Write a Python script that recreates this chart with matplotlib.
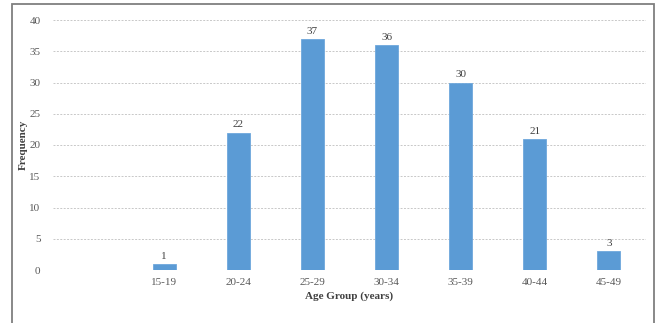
import numpy as np
import matplotlib.pyplot as plt
from matplotlib.patches import Rectangle

plt.rcParams['font.family'] = ['Liberation Serif', 'DejaVu Serif']

# Age groups (first slot left empty on the axis)
age_groups = ['', '15-19', '20-24', '25-29', '30-34', '35-39', '40-44', '45-49']
frequency = [None, 1, 22, 37, 36, 30, 21, 3]

bar_color = '#5B9BD5'
text_color = '#595959'

fig = plt.figure(figsize=(6.57, 3.23), dpi=100)
ax = fig.add_axes([53 / 657, 1 - 270 / 323, 593 / 657, 250 / 323])

x = np.arange(len(age_groups))
for xi, val in zip(x, frequency):
    if val is None:
        continue
    ax.bar(xi, val, width=0.31, color=bar_color, edgecolor='#6fa8dc', linewidth=0.6, zorder=3)
    ax.text(xi, val + 0.5, str(val), ha='center', va='bottom', fontsize=8, color='#404040')

ax.set_xlim(-0.5, len(age_groups) - 0.5)
ax.set_ylim(0, 40)
ax.set_yticks(np.arange(0, 41, 5))
ax.set_xticks(x)
ax.set_xticklabels(age_groups)

ax.grid(axis='y', color='#c8c8c8', linestyle=(0, (2, 1.5)), linewidth=0.7, zorder=0)
for side in ['top', 'right', 'left', 'bottom']:
    ax.spines[side].set_visible(False)
ax.tick_params(axis='both', length=0, labelsize=8, labelcolor=text_color)
ax.tick_params(axis='y', pad=9)
ax.tick_params(axis='x', pad=6)

ax.set_xlabel('Age Group (years)', fontsize=8, fontweight='bold', color='#404040', labelpad=3)
ax.set_ylabel('Frequency', fontsize=8, fontweight='bold', color='#404040', labelpad=1)

# outer frame around the chart
frame = Rectangle((11.5 / 657, -0.05), (654 - 11.5) / 657, 1.05 - 4.5 / 323,
                  transform=fig.transFigure, fill=False, edgecolor='#7f7f7f', linewidth=1.3)
fig.patches.append(frame)

fig.savefig('out.png', dpi=100)
